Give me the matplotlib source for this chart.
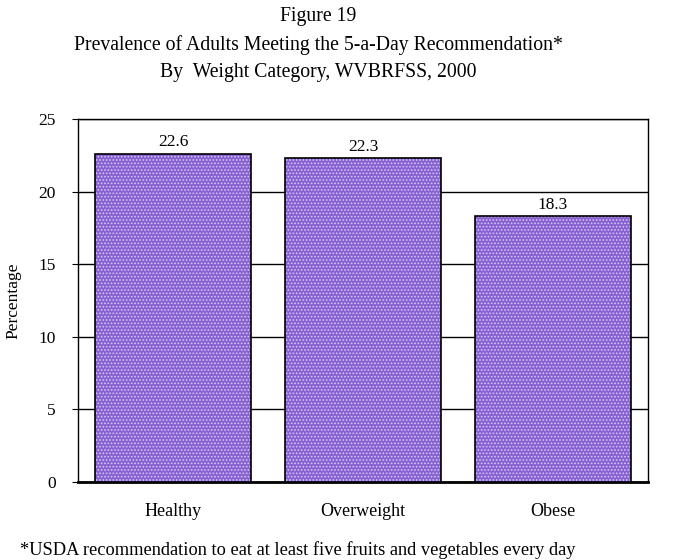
import matplotlib.pyplot as plt
import numpy as np

categories = ["Healthy", "Overweight", "Obese"]
values = [22.6, 22.3, 18.3]
yticks = [0, 5, 10, 15, 20, 25]

plt.rcParams['font.family'] = ['Liberation Serif', 'DejaVu Serif']
plt.rcParams['hatch.linewidth'] = 0.8

fig = plt.figure(figsize=(6.73, 5.6), dpi=100)
ax = fig.add_axes([78/673, 1-482/560, (648-78)/673, (482-119)/560])

x = np.arange(len(categories))
# dotted fill (hatch takes the edge colour), then a black outline on top
ax.bar(x, values, width=0.82, color='#8660d0', edgecolor='#d4c6f6',
       linewidth=0, hatch='.....', zorder=3)
ax.bar(x, values, width=0.82, fill=False, edgecolor='black',
       linewidth=1.2, zorder=4)

for xi, v in zip(x, values):
    ax.text(xi, v + 0.25, f"{v}", ha='center', va='bottom', fontsize=12.5)

ax.set_xlim(-0.5, 2.5)
ax.set_ylim(0, 25)
ax.set_yticks(yticks)
ax.set_yticklabels([str(t) for t in yticks], fontsize=12.5)
ax.set_xticks(x)
ax.set_xticklabels(categories, fontsize=13)
ax.tick_params(axis='x', length=0, pad=15)
ax.tick_params(axis='y', length=4, direction='out', pad=12)
ax.yaxis.grid(True, color='black', linewidth=1.0, zorder=0)
ax.set_axisbelow(True)
for s in ax.spines.values():
    s.set_linewidth(1.0)
ax.spines['bottom'].set_linewidth(2.0)
ax.set_ylabel("Percentage", fontsize=12.5, labelpad=12)

fig.text(318/673, 1-17/560, "Figure 19", ha='center', va='center', fontsize=14.2)
fig.text(318/673, 1-45/560, "Prevalence of Adults Meeting the 5-a-Day Recommendation*",
         ha='center', va='center', fontsize=14.2)
fig.text(318/673, 1-72/560, "By  Weight Category, WVBRFSS, 2000",
         ha='center', va='center', fontsize=14.2)
fig.text(20/673, 1-550/560, "*USDA recommendation to eat at least five fruits and vegetables every day",
         ha='left', va='center', fontsize=13.2)

fig.savefig("out.png", dpi=100)
